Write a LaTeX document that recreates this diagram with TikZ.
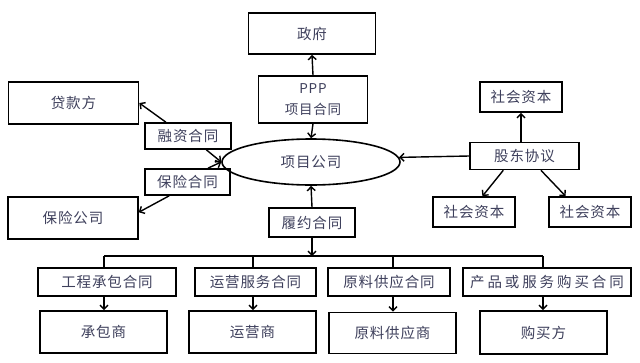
\documentclass[tikz,border=0pt]{standalone}
\usepackage{fontspec}
\setmainfont[LetterSpace=6]{Noto Sans CJK SC}
\usetikzlibrary{arrows.meta,shapes.geometric}
\definecolor{txt}{RGB}{62,64,92}
\begin{document}
\begin{tikzpicture}[x=1pt,y=-1pt,
  every node/.style={font=\fontsize{14.5}{17}\selectfont, text=txt},
  box/.style={draw=black, line width=1.6pt, rectangle, inner sep=0pt, align=center},
  conn/.style={line width=1.4pt, draw=black},
  arr/.style={conn, -{Straight Barb[length=4pt,width=8pt]}}]
\useasboundingbox[fill=white] (0,0) rectangle (640,362);

% top
\node[box, minimum width=127pt, minimum height=41pt] (gov) at (312,33.5) {政府};
\node[box, minimum width=109pt, minimum height=47pt, font=\fontsize{13.5}{21}\selectfont] (ppp) at (313,99.5) {PPP\\项目合同};
\node[draw=black, line width=1.6pt, ellipse, minimum width=178pt, minimum height=46pt, inner sep=0pt] (co) at (311,162) {项目公司};

% left
\node[box, minimum width=130pt, minimum height=42pt] (lender) at (73.5,103) {贷款方};
\node[box, minimum width=86pt, minimum height=26pt] (rz) at (188,136) {融资合同};
\node[box, minimum width=85pt, minimum height=26pt] (bx) at (187.5,182) {保险合同};
\node[box, minimum width=130pt, minimum height=42pt] (ins) at (73,218) {保险公司};

% right
\node[box, minimum width=82pt, minimum height=30pt] (sct) at (521,97) {社会资本};
\node[box, minimum width=109pt, minimum height=27pt] (gd) at (524.5,156) {股东协议};
\node[box, minimum width=82pt, minimum height=30pt] (sc1) at (474,212) {社会资本};
\node[box, minimum width=82pt, minimum height=30pt] (sc2) at (590,212) {社会资本};

% centre bottom
\node[box, minimum width=86pt, minimum height=29pt] (ly) at (312,222.5) {履约合同};

% contracts
\node[box, minimum width=138pt, minimum height=28pt] (c1) at (107,282) {工程承包合同};
\node[box, minimum width=121pt, minimum height=28pt] (c2) at (255.5,282) {运营服务合同};
\node[box, minimum width=122pt, minimum height=28pt] (c3) at (389,282) {原料供应合同};
\node[box, minimum width=168pt, minimum height=28pt] (c4) at (547,282) {\addfontfeature{LetterSpace=20}产品或服务购买合同};

% parties
\node[box, minimum width=127pt, minimum height=42pt] (p1) at (103.5,332) {承包商};
\node[box, minimum width=127pt, minimum height=42pt] (p2) at (252.5,332) {运营商};
\node[box, minimum width=127pt, minimum height=41pt] (p3) at (392.5,333) {原料供应商};
\node[box, minimum width=127pt, minimum height=43pt] (p4) at (543.5,332.5) {购买方};

% bus coordinates
\coordinate (b1) at (104,256);
\coordinate (b2) at (253,256);
\coordinate (b3) at (393,256);
\coordinate (b4) at (543,256);

% connectors
\draw[arr] (ppp.north) -- (gov.south);
\draw[arr] (ppp.south) -- (co.north);
\draw[arr] (rz.148) -- (lender.east);
\draw[arr] (rz.-37) -- (co.west);
\draw[arr] (bx.34) -- (co.west);
\draw[arr] (bx.-143) -- (ins.5);
\draw[arr] (ly.north) -- (co.south);
\draw[arr] (ly.south) -- (ly.south |- b1);
\draw[arr] (gd.west) -- (co.3);
\draw[arr] (sct.south |- gd.north) -- (sct.south);
\draw[arr] (gd.-146) -- (sc1.62);
\draw[arr] (gd.-41) -- (sc2.147);

\draw[conn] (b1) -- (b4);
\draw[conn] (b1) -- (b1 |- c1.north);
\draw[conn] (b2) -- (b2 |- c2.north);
\draw[conn] (b3) -- (b3 |- c3.north);
\draw[conn] (b4) -- (b4 |- c4.north);
\draw[arr] (b1 |- c1.south) -- (b1 |- p1.north);
\draw[arr] (b2 |- c2.south) -- (b2 |- p2.north);
\draw[arr] (b3 |- c3.south) -- (b3 |- p3.north);
\draw[arr] (b4 |- c4.south) -- (b4 |- p4.north);
\end{tikzpicture}
\end{document}
